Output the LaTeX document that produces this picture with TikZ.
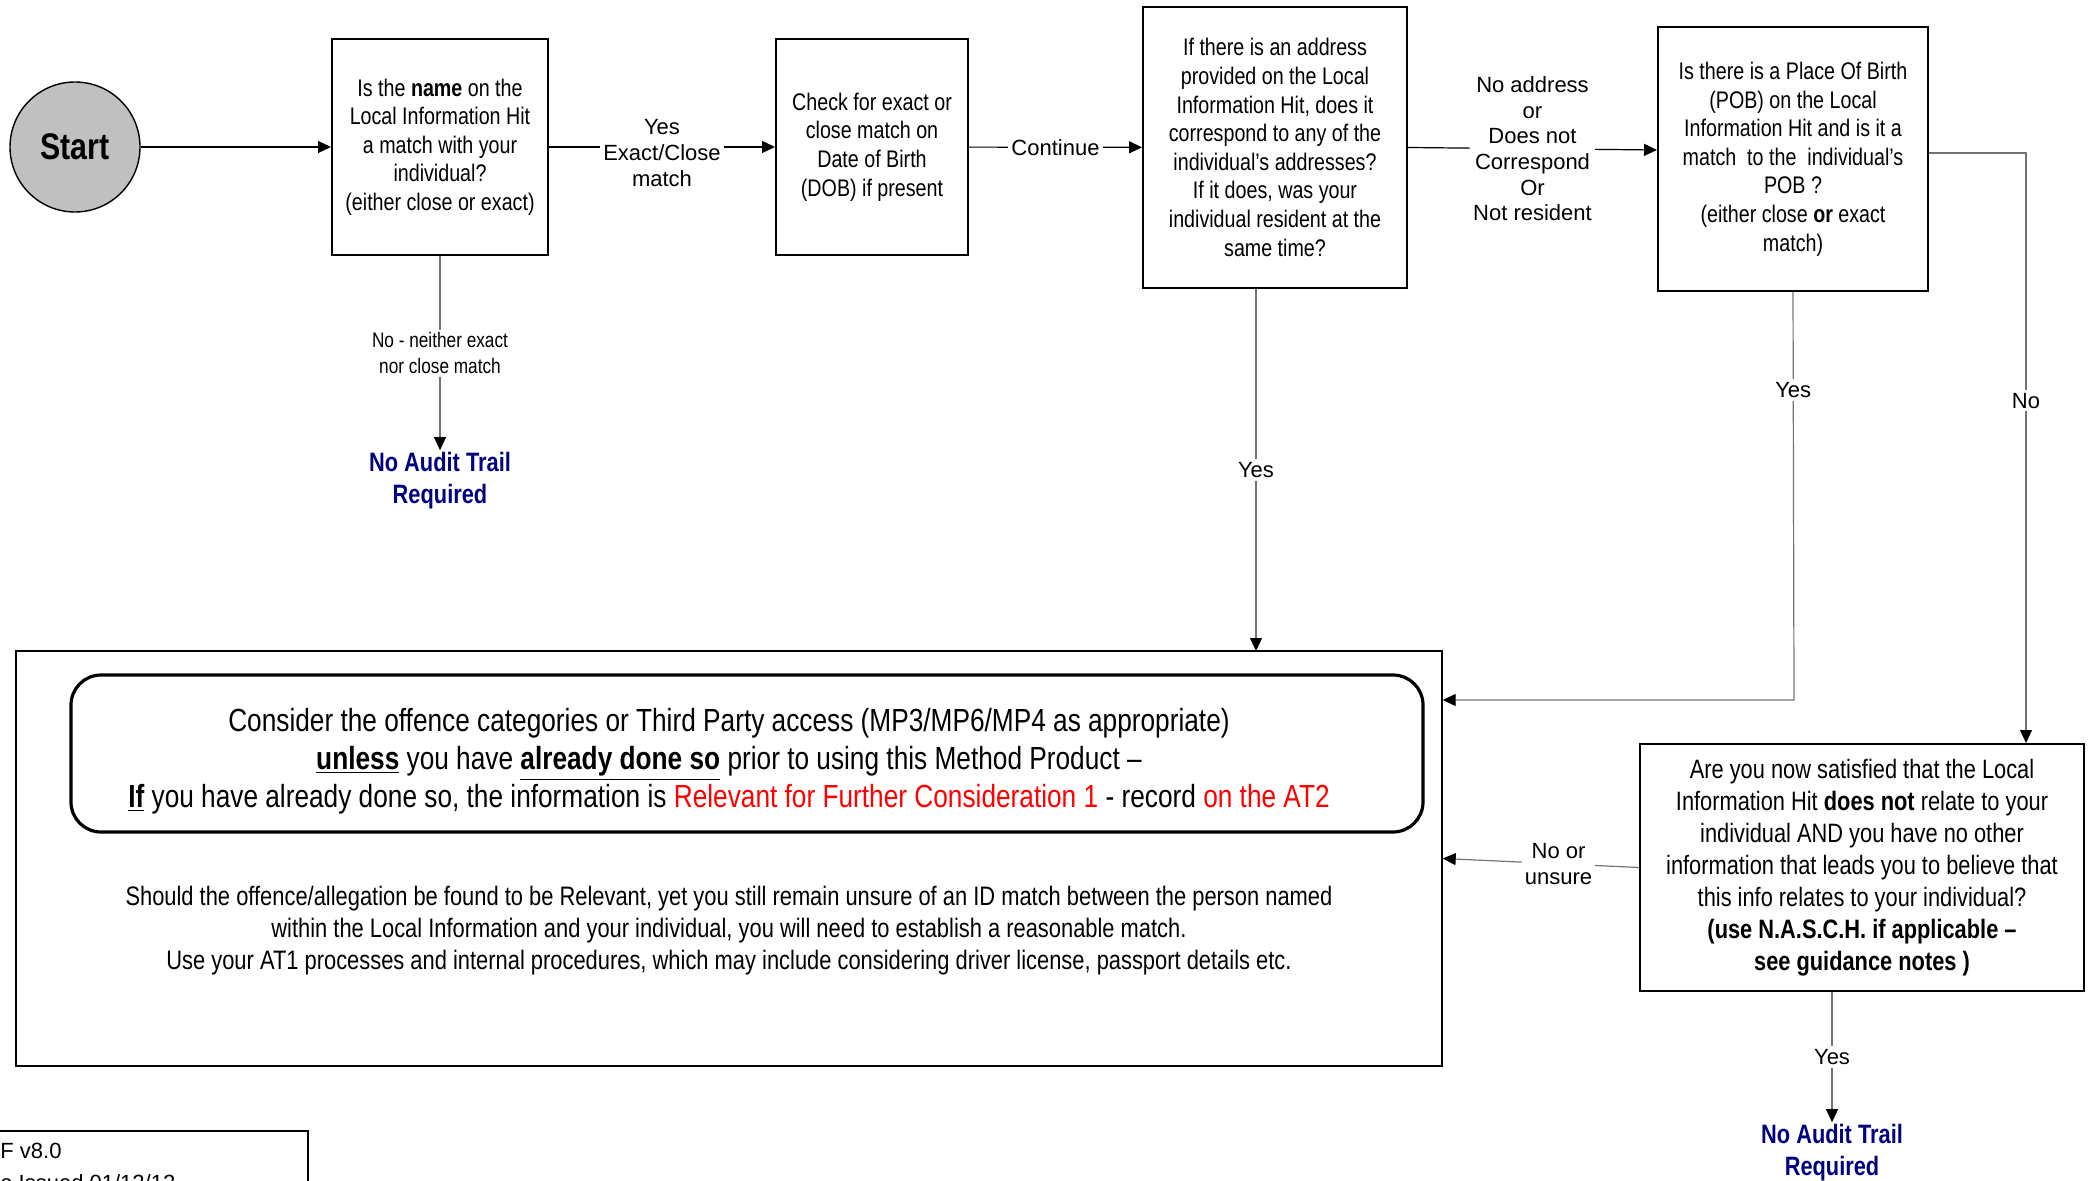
\documentclass[tikz,border=0pt]{standalone}
\usepackage{fontspec}
\setmainfont{Liberation Sans}
\newfontfamily\narrowfont{Liberation Sans}[FakeStretch=0.82]
\usepackage{tikz}
\usetikzlibrary{arrows.meta}
\definecolor{trailblue}{RGB}{0,0,128}
\definecolor{startgray}{RGB}{192,192,192}

\begin{document}
\begin{tikzpicture}[x=0.5pt,y=-0.5pt,
  qbox/.style={draw,line width=1pt,align=center,inner sep=0pt,font=\narrowfont\fontsize{12}{14.3}\selectfont},
  lbl/.style={fill=white,align=center,inner sep=1.5pt,font=\fontsize{11}{12.8}\selectfont},
  nlbl/.style={fill=white,align=center,inner sep=1.5pt,font=\narrowfont\fontsize{10.5}{12.7}\selectfont},
  trail/.style={text=trailblue,align=center,inner sep=1pt,font=\narrowfont\bfseries\fontsize{13.3}{16}\selectfont},
  flow/.style={-{Triangle[length=6.5pt,width=6pt,color=black]},line width=0.6pt},
  gflow/.style={flow,draw=black!55}]
\useasboundingbox (0,0) rectangle (2091,1181);

% top row of questions
\node[circle,draw,fill=startgray,line width=0.7pt,minimum size=65pt,inner sep=0pt,
  font=\narrowfont\bfseries\fontsize{18.5}{20}\selectfont] (start) at (75,147) {Start};
\node[qbox,minimum width=108pt,minimum height=108pt] (name) at (440,147)
  {Is the \textbf{name} on the\\Local Information Hit\\a match with your\\individual?\\(either close or exact)};
\node[qbox,minimum width=96pt,minimum height=108pt] (dob) at (872,147)
  {Check for exact or\\close match on\\Date of Birth\\(DOB) if present};
\node[qbox,minimum width=132pt,minimum height=140.5pt] (addr) at (1275,147.5)
  {If there is an address\\provided on the Local\\Information Hit, does it\\correspond to any of the\\individual’s addresses?\\If it does, was your\\individual resident at the\\same time?};
\node[qbox,minimum width=135pt,minimum height=132pt] (pob) at (1793,159)
  {Is there is a Place Of Birth\\(POB) on the Local\\Information Hit and is it a\\match\ \ to the\ \ individual’s\\POB ?\\(either close \textbf{or} exact\\match)};
\node[qbox,minimum width=222pt,minimum height=123.5pt,font=\narrowfont\fontsize{13.3}{16}\selectfont] (sure) at (1862,867.5)
  {Are you now satisfied that the Local\\Information Hit \textbf{does not} relate to your\\individual AND you have no other\\information that leads you to believe that\\this info relates to your individual?\\\textbf{(use N.A.S.C.H. if applicable –}\\\textbf{see guidance notes )}};

% end points
\node[trail] (trailA) at (440,481) {No Audit Trail\\Required};
\node[trail] (trailB) at (1832,1153) {No Audit Trail\\Required};

% consider box
\node[draw,line width=0.7pt,minimum width=713pt,minimum height=207.5pt] (main) at (729,858.5) {};
\node[draw,line width=1.6pt,rounded corners=15pt,minimum width=676pt,minimum height=78.5pt] (offbox) at (747,753.5) {};
\node[align=center,font=\narrowfont\fontsize{16}{19}\selectfont] (offtext) at (729,761.5)
  {Consider the offence categories or Third Party access (MP3/MP6/MP4 as appropriate)\\
   \textbf{\underline{unless}} you have \textbf{\underline{already done so}} prior to using this Method Product –\\
   \textbf{\underline{If}} you have already done so, the information is \textcolor{red}{Relevant for Further Consideration 1} - record \textcolor{red}{on the AT2}};
\node[align=center,font=\narrowfont\fontsize{13.35}{16}\selectfont] (unsure) at (729,931)
  {Should the offence/allegation be found to be Relevant, yet you still remain unsure of an ID match between the person named\\
   within the Local Information and your individual, you will need to establish a reasonable match.\\
   Use your AT1 processes and internal procedures, which may include considering driver license, passport details etc.};

% footer
\node[anchor=north west,inner sep=0pt,align=left,font=\fontsize{11}{16}\selectfont] (issue) at (0,1143) {F v8.0\\e Issued 01/12/12};
\draw[line width=0.6pt] (0,1131) -- (308,1131) -- (308,1181);

% connectors
\coordinate (addrdown) at (1256,651);
\coordinate (pobcorner) at (1794,700);
\coordinate (nocorner) at (2026,153);

\draw[flow] (start) -- (name);
\draw[flow] (name) -- node[lbl,yshift=-3pt]{Yes\\Exact/Close\\match} (dob);
\draw[flow] (dob) -- node[lbl]{Continue} (addr);
\draw[flow] (addr.east) -- node[lbl]{No address\\or\\Does not\\Correspond\\Or\\Not resident} ([yshift=4.5pt]pob.west);
\draw[gflow] (name) -- node[nlbl]{No - neither exact\\nor close match} (trailA);
\draw[gflow] (addrdown |- addr.south) -- node[lbl]{Yes} (addrdown);
\draw[gflow] (pob.south) -- node[lbl,pos=0.24]{Yes} (pobcorner) -- (pobcorner -| main.east);
\draw[gflow] ([yshift=3pt]pob.east) -- (nocorner) -- node[lbl,pos=0.42]{No} (nocorner |- sure.north);
\draw[gflow] (sure.west) -- node[lbl,pos=0.41]{No or\\unsure} (main.east);
\draw[gflow] (trailB |- sure.south) -- node[lbl]{Yes} (trailB);
\end{tikzpicture}
\end{document}
